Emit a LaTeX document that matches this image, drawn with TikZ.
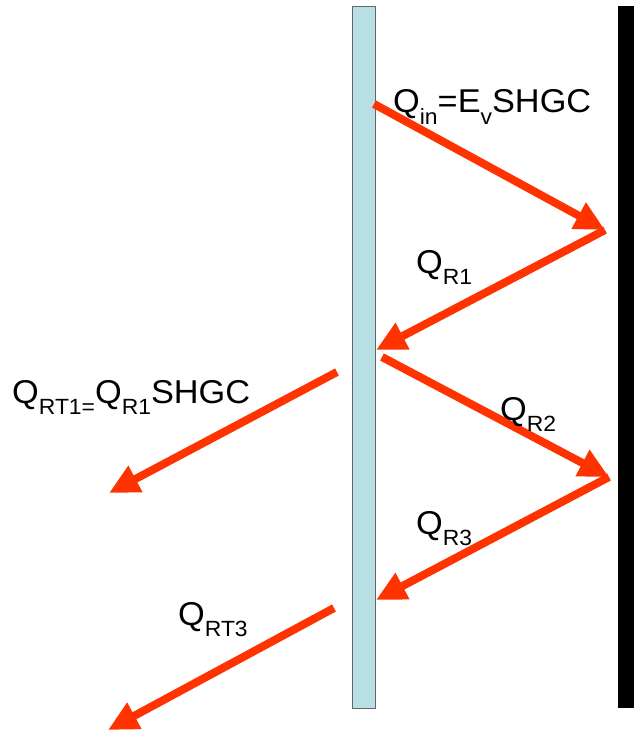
\documentclass[tikz,border=0pt]{standalone}
\usepackage{fontspec}
\setmainfont{Liberation Sans}
\usetikzlibrary{arrows.meta}
\definecolor{rayred}{RGB}{255,51,0}
\definecolor{glassblue}{RGB}{184,223,228}
\newcommand{\sbs}[1]{\raisebox{-11.5pt}{\fontsize{22}{26}\selectfont #1}}
\begin{document}
\begin{tikzpicture}[x=1pt, y=-1pt, line join=miter, >={Triangle[length=30pt,width=28pt]},
	ray/.style={->, draw=rayred, line width=8pt},
	lbl/.style={anchor=base west, inner sep=0pt, font=\fontsize{33}{38}\selectfont}]
	\useasboundingbox (0,0) rectangle (634,733);
	\path
	(374,104) coordinate (G1)
	(605,230) coordinate (W1)
	(376,350) coordinate (G2)
	(337,372) coordinate (T1)
	(109,493) coordinate (O1)
	(382,357) coordinate (G3)
	(609,477) coordinate (W2)
	(376,600) coordinate (G4)
	(334,608) coordinate (T3)
	(108,730) coordinate (O3);
	% glass pane and wall
	\filldraw[fill=glassblue, draw=gray!80!black, line width=0.8pt] (352,6) rectangle (375,708);
	\fill[black] (618,6) rectangle (634,708);
	% rays
	\draw[ray] (G1)--(W1);
	\draw[ray] (W1)--(G2);
	\draw[ray] (T1)--(O1);
	\draw[ray] (G3)--(W2);
	\draw[ray] (W2)--(G4);
	\draw[ray] (T3)--(O3);
	% labels
	\node[lbl, xscale=1.04] (qin) at (393,113) {Q\sbs{in}=E\sbs{v}SHGC};
	\node[lbl, xscale=1.04] (qr1) at (416,273) {Q\sbs{R1}};
	\node[lbl, xscale=1.04] (qrt1) at (12,403) {Q\sbs{RT1=}Q\sbs{R1}SHGC};
	\node[lbl, xscale=1.04] (qr2) at (500,420) {Q\sbs{R2}};
	\node[lbl, xscale=1.04] (qr3) at (416,534) {Q\sbs{R3}};
	\node[lbl, xscale=1.04] (qrt3) at (178,625) {Q\sbs{RT3}};
\end{tikzpicture}
\end{document}
